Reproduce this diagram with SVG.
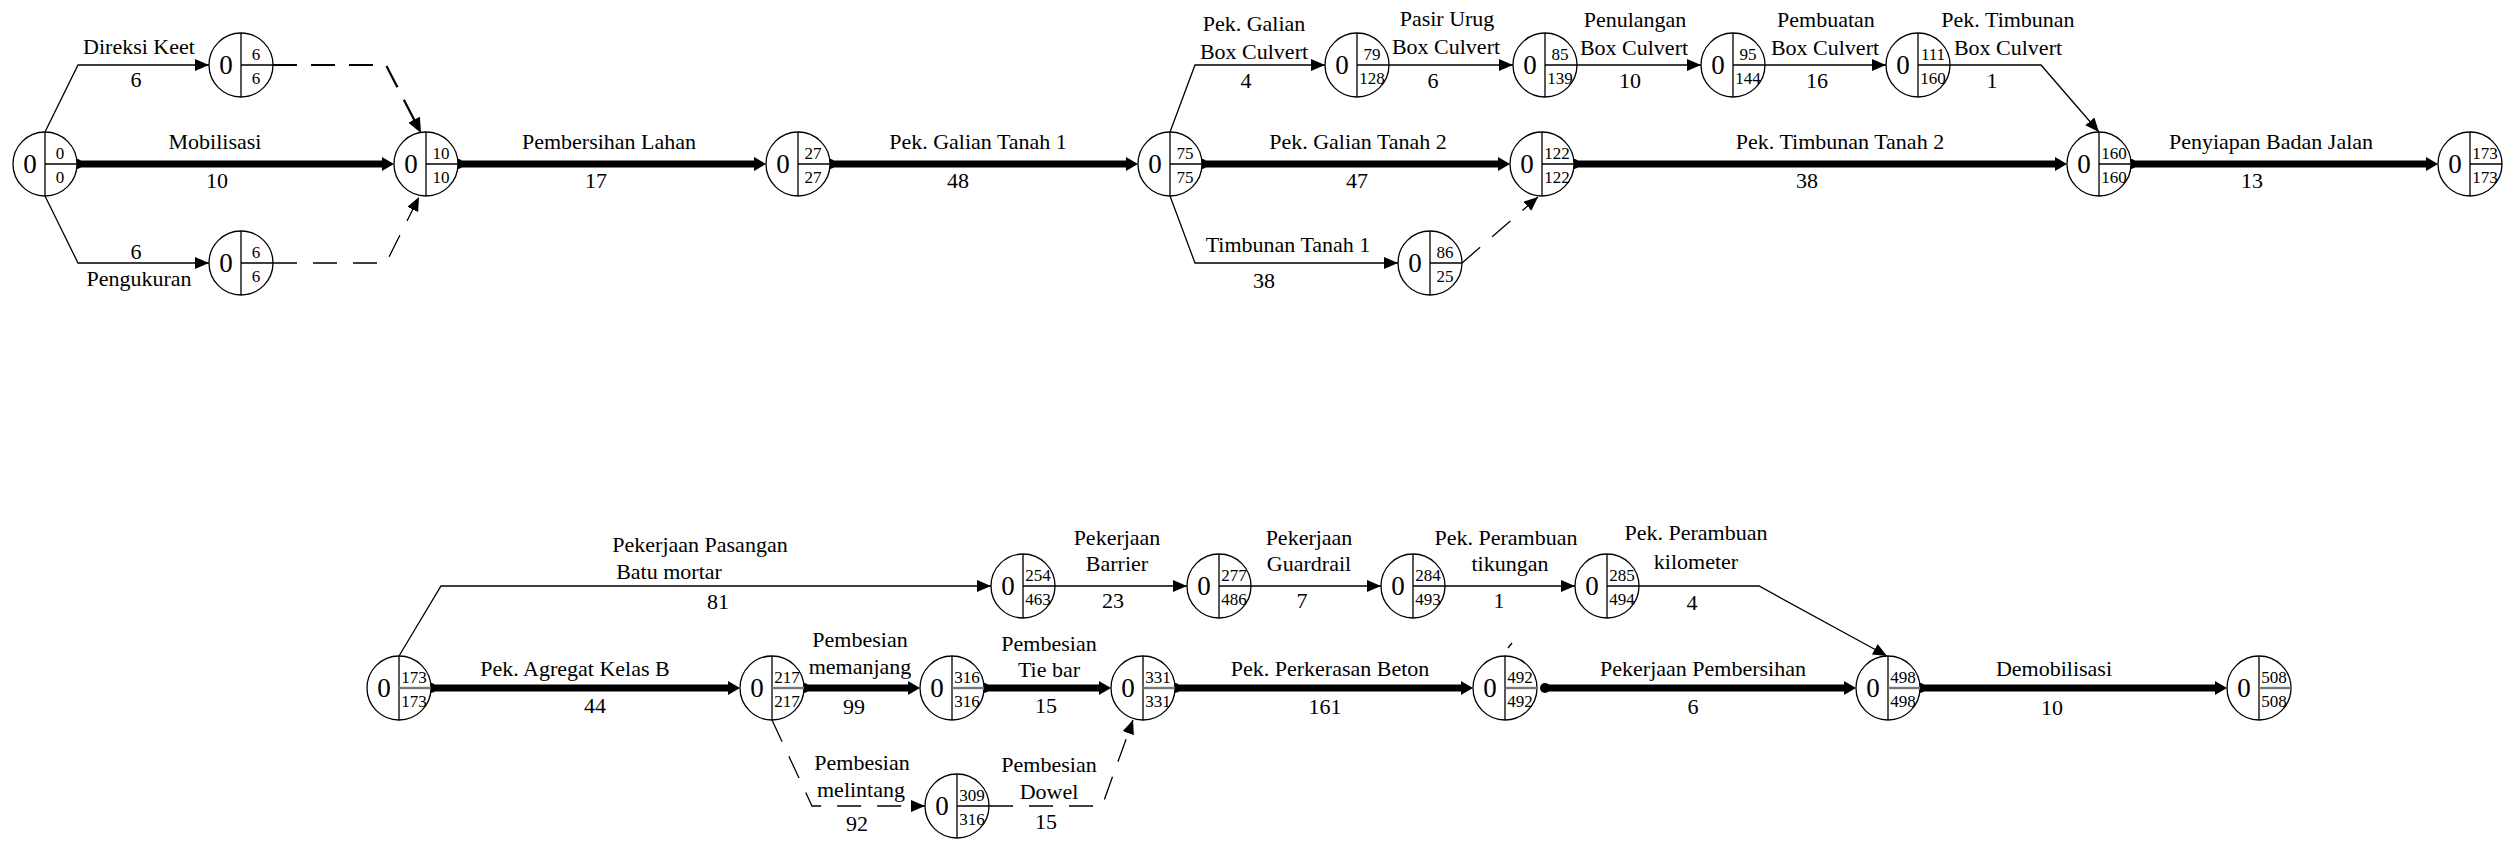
<svg xmlns="http://www.w3.org/2000/svg" width="2504" height="842" viewBox="0 0 2504 842">
<style>
text{font-family:"Liberation Serif","DejaVu Serif",serif;fill:#000}
.lb{font-size:22px;text-anchor:middle}
.z{font-size:27px;text-anchor:middle}
.n{font-size:17px;text-anchor:middle}
.c{fill:#fff;stroke:#000;stroke-width:1.3}
.d{stroke:#000;stroke-width:1.3;fill:none}
.g{stroke:#777;stroke-width:2.4;fill:none}
.thin{stroke:#000;stroke-width:1.3;fill:none;marker-end:url(#ah)}
.thick{stroke:#000;stroke-width:7;fill:none;marker-end:url(#tah);marker-start:url(#dot)}
.dash1{stroke:#000;stroke-width:2.2;fill:none;stroke-dasharray:24 14;marker-end:url(#ah2)}
.dash2{stroke:#000;stroke-width:1.3;fill:none;stroke-dasharray:24 16;marker-end:url(#ah)}
</style>
<defs>
<marker id="ah" markerUnits="userSpaceOnUse" viewBox="0 0 14 12" markerWidth="14" markerHeight="12" refX="14" refY="6" orient="auto"><path d="M0,0 L14,6 L0,12 z" fill="#000"/></marker>
<marker id="ah2" markerUnits="userSpaceOnUse" viewBox="0 0 15 13" markerWidth="15" markerHeight="13" refX="15" refY="6.5" orient="auto"><path d="M0,0 L15,6.5 L0,13 z" fill="#000"/></marker>
<marker id="tah" markerUnits="userSpaceOnUse" viewBox="0 0 12 14" markerWidth="12" markerHeight="14" refX="1" refY="7" orient="auto"><path d="M0,0 L12,7 L0,14 z" fill="#000"/></marker>
<marker id="dot" markerUnits="userSpaceOnUse" viewBox="-6 -6 12 12" markerWidth="12" markerHeight="12" refX="0" refY="0" orient="auto"><circle r="5" fill="#000"/></marker>
</defs>
<rect width="2504" height="842" fill="#fff"/>

<g id="connectors">
<!-- top row -->
<path class="thin" d="M45,132 L78,65 L209,65"/>
<path class="thin" d="M45,196 L78,263 L209,263"/>
<path class="thick" d="M77,164 L383,164"/>
<path class="dash1" d="M273,65 L386,65 L421,133"/>
<path class="dash2" d="M273,263 L386,263 L419,197"/>
<path class="thick" d="M458,164 L755,164"/>
<path class="thick" d="M830,164 L1127,164"/>
<path class="thin" d="M1170,132 L1195,65 L1325,65"/>
<path class="thin" d="M1170,196 L1195,263 L1398,263"/>
<path class="thick" d="M1202,164 L1499,164"/>
<path class="thin" d="M1389,65 L1513,65"/>
<path class="thin" d="M1577,65 L1701,65"/>
<path class="thin" d="M1765,65 L1886,65"/>
<path class="thin" d="M1950,65 L2041,65 L2099,132"/>
<path class="dash2" d="M1462,263 L1538,197"/>
<path class="thick" d="M1574,164 L2056,164"/>
<path class="thick" d="M2131,164 L2427,164"/>
<!-- bottom row -->
<path class="thin" d="M399,656 L441,586 L991,586"/>
<path class="thick" d="M431,688 L729,688"/>
<path class="thick" d="M804,688 L909,688"/>
<path class="dash2" d="M772,720 L812,806 L925,806"/>
<path class="thick" d="M984,688 L1100,688"/>
<path class="dash2" d="M989,806 L1102,806 L1133,720"/>
<path class="thin" d="M1055,586 L1187,586"/>
<path class="thin" d="M1251,586 L1381,586"/>
<path class="thin" d="M1445,586 L1575,586"/>
<path class="thin" d="M1639,586 L1759,586 L1887,656"/>
<path class="thick" d="M1175,688 L1462,688"/>
<path class="thick" d="M1545,688 L1845,688"/>
<path class="thick" d="M1920,688 L2216,688"/>
<path class="d" d="M1508,648 L1512,643"/>
</g>

<g id="labels">
<text class="lb" x="139" y="54">Direksi Keet</text>
<text class="lb" x="136" y="87">6</text>
<text class="lb" x="215" y="149">Mobilisasi</text>
<text class="lb" x="217" y="188">10</text>
<text class="lb" x="136" y="259">6</text>
<text class="lb" x="139" y="286">Pengukuran</text>
<text class="lb" x="609" y="149">Pembersihan Lahan</text>
<text class="lb" x="596" y="188">17</text>
<text class="lb" x="978" y="149">Pek. Galian Tanah 1</text>
<text class="lb" x="958" y="188">48</text>
<text class="lb" x="1254" y="31">Pek. Galian</text>
<text class="lb" x="1254" y="59">Box Culvert</text>
<text class="lb" x="1246" y="88">4</text>
<text class="lb" x="1447" y="26">Pasir Urug</text>
<text class="lb" x="1446" y="54">Box Culvert</text>
<text class="lb" x="1433" y="88">6</text>
<text class="lb" x="1635" y="27">Penulangan</text>
<text class="lb" x="1634" y="55">Box Culvert</text>
<text class="lb" x="1630" y="88">10</text>
<text class="lb" x="1826" y="27">Pembuatan</text>
<text class="lb" x="1825" y="55">Box Culvert</text>
<text class="lb" x="1817" y="88">16</text>
<text class="lb" x="2008" y="27">Pek. Timbunan</text>
<text class="lb" x="2008" y="55">Box Culvert</text>
<text class="lb" x="1992" y="88">1</text>
<text class="lb" x="1358" y="149">Pek. Galian Tanah 2</text>
<text class="lb" x="1357" y="188">47</text>
<text class="lb" x="1288" y="252">Timbunan Tanah 1</text>
<text class="lb" x="1264" y="288">38</text>
<text class="lb" x="1840" y="149">Pek. Timbunan Tanah 2</text>
<text class="lb" x="1807" y="188">38</text>
<text class="lb" x="2271" y="149">Penyiapan Badan Jalan</text>
<text class="lb" x="2252" y="188">13</text>

<text class="lb" x="700" y="552">Pekerjaan Pasangan</text>
<text class="lb" x="669" y="579">Batu mortar</text>
<text class="lb" x="718" y="609">81</text>
<text class="lb" x="575" y="676">Pek. Agregat Kelas B</text>
<text class="lb" x="595" y="713">44</text>
<text class="lb" x="860" y="647">Pembesian</text>
<text class="lb" x="860" y="674">memanjang</text>
<text class="lb" x="854" y="714">99</text>
<text class="lb" x="862" y="770">Pembesian</text>
<text class="lb" x="861" y="797">melintang</text>
<text class="lb" x="857" y="831">92</text>
<text class="lb" x="1117" y="545">Pekerjaan</text>
<text class="lb" x="1117" y="571">Barrier</text>
<text class="lb" x="1113" y="608">23</text>
<text class="lb" x="1309" y="545">Pekerjaan</text>
<text class="lb" x="1309" y="571">Guardrail</text>
<text class="lb" x="1302" y="608">7</text>
<text class="lb" x="1506" y="545">Pek. Perambuan</text>
<text class="lb" x="1510" y="571">tikungan</text>
<text class="lb" x="1499" y="608">1</text>
<text class="lb" x="1696" y="540">Pek. Perambuan</text>
<text class="lb" x="1696" y="569">kilometer</text>
<text class="lb" x="1692" y="610">4</text>
<text class="lb" x="1049" y="651">Pembesian</text>
<text class="lb" x="1049" y="677">Tie bar</text>
<text class="lb" x="1046" y="713">15</text>
<text class="lb" x="1049" y="772">Pembesian</text>
<text class="lb" x="1049" y="799">Dowel</text>
<text class="lb" x="1046" y="829">15</text>
<text class="lb" x="1330" y="676">Pek. Perkerasan Beton</text>
<text class="lb" x="1325" y="714">161</text>
<text class="lb" x="1703" y="676">Pekerjaan Pembersihan</text>
<text class="lb" x="1693" y="714">6</text>
<text class="lb" x="2054" y="676">Demobilisasi</text>
<text class="lb" x="2052" y="715">10</text>
</g>

<g id="n1"><circle class="c" cx="45" cy="164" r="32"/><path class="d" d="M45,132V196M45,164H77"/><text class="z" x="30" y="173">0</text><text class="n" x="60" y="159">0</text><text class="n" x="60" y="183">0</text></g>
<g id="n2"><circle class="c" cx="241" cy="65" r="32"/><path class="d" d="M241,33V97M241,65H273"/><text class="z" x="226" y="74">0</text><text class="n" x="256" y="60">6</text><text class="n" x="256" y="84">6</text></g>
<g id="n3"><circle class="c" cx="241" cy="263" r="32"/><path class="d" d="M241,231V295M241,263H273"/><text class="z" x="226" y="272">0</text><text class="n" x="256" y="258">6</text><text class="n" x="256" y="282">6</text></g>
<g id="n4"><circle class="c" cx="426" cy="164" r="32"/><path class="d" d="M426,132V196M426,164H458"/><text class="z" x="411" y="173">0</text><text class="n" x="441" y="159">10</text><text class="n" x="441" y="183">10</text></g>
<g id="n5"><circle class="c" cx="798" cy="164" r="32"/><path class="d" d="M798,132V196M798,164H830"/><text class="z" x="783" y="173">0</text><text class="n" x="813" y="159">27</text><text class="n" x="813" y="183">27</text></g>
<g id="n6"><circle class="c" cx="1170" cy="164" r="32"/><path class="d" d="M1170,132V196M1170,164H1202"/><text class="z" x="1155" y="173">0</text><text class="n" x="1185" y="159">75</text><text class="n" x="1185" y="183">75</text></g>
<g id="n7"><circle class="c" cx="1357" cy="65" r="32"/><path class="d" d="M1357,33V97M1357,65H1389"/><text class="z" x="1342" y="74">0</text><text class="n" x="1372" y="60">79</text><text class="n" x="1372" y="84">128</text></g>
<g id="n8"><circle class="c" cx="1545" cy="65" r="32"/><path class="d" d="M1545,33V97M1545,65H1577"/><text class="z" x="1530" y="74">0</text><text class="n" x="1560" y="60">85</text><text class="n" x="1560" y="84">139</text></g>
<g id="n9"><circle class="c" cx="1733" cy="65" r="32"/><path class="d" d="M1733,33V97M1733,65H1765"/><text class="z" x="1718" y="74">0</text><text class="n" x="1748" y="60">95</text><text class="n" x="1748" y="84">144</text></g>
<g id="n10"><circle class="c" cx="1918" cy="65" r="32"/><path class="d" d="M1918,33V97M1918,65H1950"/><text class="z" x="1903" y="74">0</text><text class="n" x="1933" y="60">111</text><text class="n" x="1933" y="84">160</text></g>
<g id="n11"><circle class="c" cx="1430" cy="263" r="32"/><path class="d" d="M1430,231V295M1430,263H1462"/><text class="z" x="1415" y="272">0</text><text class="n" x="1445" y="258">86</text><text class="n" x="1445" y="282">25</text></g>
<g id="n12"><circle class="c" cx="1542" cy="164" r="32"/><path class="d" d="M1542,132V196M1542,164H1574"/><text class="z" x="1527" y="173">0</text><text class="n" x="1557" y="159">122</text><text class="n" x="1557" y="183">122</text></g>
<g id="n13"><circle class="c" cx="2099" cy="164" r="32"/><path class="d" d="M2099,132V196M2099,164H2131"/><text class="z" x="2084" y="173">0</text><text class="n" x="2114" y="159">160</text><text class="n" x="2114" y="183">160</text></g>
<g id="n14"><circle class="c" cx="2470" cy="164" r="32"/><path class="d" d="M2470,132V196M2470,164H2502"/><text class="z" x="2455" y="173">0</text><text class="n" x="2485" y="159">173</text><text class="n" x="2485" y="183">173</text></g>

<g id="b1"><circle class="c" cx="399" cy="688" r="32"/><path class="d" d="M399,656V720"/><path class="g" d="M399,688H431"/><text class="z" x="384" y="697">0</text><text class="n" x="414" y="683">173</text><text class="n" x="414" y="707">173</text></g>
<g id="b2"><circle class="c" cx="1023" cy="586" r="32"/><path class="d" d="M1023,554V618M1023,586H1055"/><text class="z" x="1008" y="595">0</text><text class="n" x="1038" y="581">254</text><text class="n" x="1038" y="605">463</text></g>
<g id="b3"><circle class="c" cx="772" cy="688" r="32"/><path class="d" d="M772,656V720"/><path class="g" d="M772,688H804"/><text class="z" x="757" y="697">0</text><text class="n" x="787" y="683">217</text><text class="n" x="787" y="707">217</text></g>
<g id="b4"><circle class="c" cx="952" cy="688" r="32"/><path class="d" d="M952,656V720"/><path class="g" d="M952,688H984"/><text class="z" x="937" y="697">0</text><text class="n" x="967" y="683">316</text><text class="n" x="967" y="707">316</text></g>
<g id="b5"><circle class="c" cx="957" cy="806" r="32"/><path class="d" d="M957,774V838M957,806H989"/><text class="z" x="942" y="815">0</text><text class="n" x="972" y="801">309</text><text class="n" x="972" y="825">316</text></g>
<g id="b6"><circle class="c" cx="1219" cy="586" r="32"/><path class="d" d="M1219,554V618M1219,586H1251"/><text class="z" x="1204" y="595">0</text><text class="n" x="1234" y="581">277</text><text class="n" x="1234" y="605">486</text></g>
<g id="b7"><circle class="c" cx="1413" cy="586" r="32"/><path class="d" d="M1413,554V618M1413,586H1445"/><text class="z" x="1398" y="595">0</text><text class="n" x="1428" y="581">284</text><text class="n" x="1428" y="605">493</text></g>
<g id="b8"><circle class="c" cx="1607" cy="586" r="32"/><path class="d" d="M1607,554V618M1607,586H1639"/><text class="z" x="1592" y="595">0</text><text class="n" x="1622" y="581">285</text><text class="n" x="1622" y="605">494</text></g>
<g id="b9"><circle class="c" cx="1143" cy="688" r="32"/><path class="d" d="M1143,656V720"/><path class="g" d="M1143,688H1175"/><text class="z" x="1128" y="697">0</text><text class="n" x="1158" y="683">331</text><text class="n" x="1158" y="707">331</text></g>
<g id="b10"><circle class="c" cx="1505" cy="688" r="32"/><path class="d" d="M1505,656V720"/><path class="g" d="M1505,688H1537"/><text class="z" x="1490" y="697">0</text><text class="n" x="1520" y="683">492</text><text class="n" x="1520" y="707">492</text></g>
<g id="b11"><circle class="c" cx="1888" cy="688" r="32"/><path class="d" d="M1888,656V720"/><path class="g" d="M1888,688H1920"/><text class="z" x="1873" y="697">0</text><text class="n" x="1903" y="683">498</text><text class="n" x="1903" y="707">498</text></g>
<g id="b12"><circle class="c" cx="2259" cy="688" r="32"/><path class="d" d="M2259,656V720"/><path class="g" d="M2259,688H2291"/><text class="z" x="2244" y="697">0</text><text class="n" x="2274" y="683">508</text><text class="n" x="2274" y="707">508</text></g>
</svg>
